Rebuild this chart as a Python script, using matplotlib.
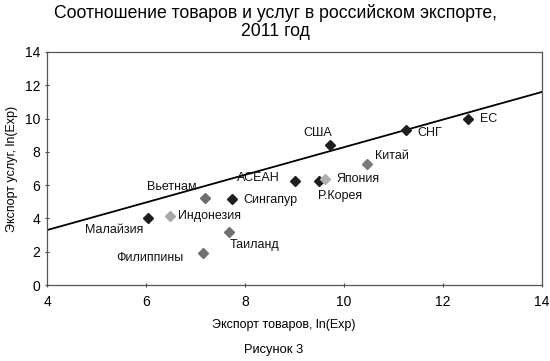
import matplotlib
matplotlib.use("Agg")
import matplotlib.pyplot as plt

plt.rcParams['font.family'] = ['Liberation Sans', 'DejaVu Sans']

# данные: ln(экспорт товаров), ln(экспорт услуг)
countries = ["Малайзия", "Индонезия", "Вьетнам", "Сингапур", "Таиланд", "Филиппины",
             "АСЕАН", "Р.Корея", "Япония", "США", "Китай", "СНГ", "ЕС"]
goods = [6.04, 6.48, 7.19, 7.74, 7.68, 7.15, 9.01, 9.49, 9.62, 9.72, 10.46, 11.25, 12.5]
services = [4.0, 4.15, 5.23, 5.17, 3.19, 1.92, 6.25, 6.25, 6.37, 8.41, 7.27, 9.31, 9.98]
shades = ["#1e1e1e", "#a8a8a8", "#6e6e6e", "#1e1e1e", "#707070", "#707070",
          "#1e1e1e", "#1e1e1e", "#b0b0b0", "#1e1e1e", "#7a7a7a", "#1e1e1e", "#1e1e1e"]
trend_x = [4, 14]
trend_y = [3.3, 11.6]

# смещения подписей (пиксели) и выравнивание
offsets = [(-5, -12, "right"), (8, 0, "left"), (-8, 11, "right"), (11, -1, "left"),
           (1, -13, "left"), (-19, -5, "right"), (-15, 3, "right"), (-1, -15, "left"),
           (11, 0, "left"), (-12, 12, "center"), (8, 8, "left"), (11, -3, "left"),
           (12, 0, "left")]

fig = plt.figure(figsize=(5.5, 3.61), dpi=100)
ax = fig.add_axes([0.0855, 0.2105, 0.9, 0.6455])

ax.plot(trend_x, trend_y, color="black", linewidth=1.3, zorder=2)
for x, y, c in zip(goods, services, shades):
    ax.plot(x, y, marker="D", markersize=5, color=c, linestyle="none", zorder=3)

for name, x, y, (dx, dy, ha) in zip(countries, goods, services, offsets):
    ax.annotate(name, (x, y), xytext=(dx, dy), textcoords="offset pixels",
                ha=ha, va="center", fontsize=9, color="#111111")

ax.set_xlim(4, 14)
ax.set_ylim(0, 14)
ax.set_xticks(range(4, 15, 2))
ax.set_yticks(range(0, 15, 2))
ax.tick_params(labelsize=10, length=3, direction="inout", color="#444444")
ax.tick_params(axis="x", pad=6)
for s in ax.spines.values():
    s.set_color("#555555")
    s.set_linewidth(0.9)

ax.set_ylabel("Экспорт услуг, ln(Exp)", fontsize=9, labelpad=5)
fig.text(0.515, 0.1, "Экспорт товаров, ln(Exp)", ha="center", va="center", fontsize=9)
fig.text(0.5, 0.939, "Соотношение товаров и услуг в российском экспорте,\n2011 год",
         ha="center", va="center", fontsize=12.7, linespacing=1.12)
fig.text(0.498, 0.031, "Рисунок 3", ha="center", va="center", fontsize=9.3)

fig.savefig("out.png", dpi=100)
